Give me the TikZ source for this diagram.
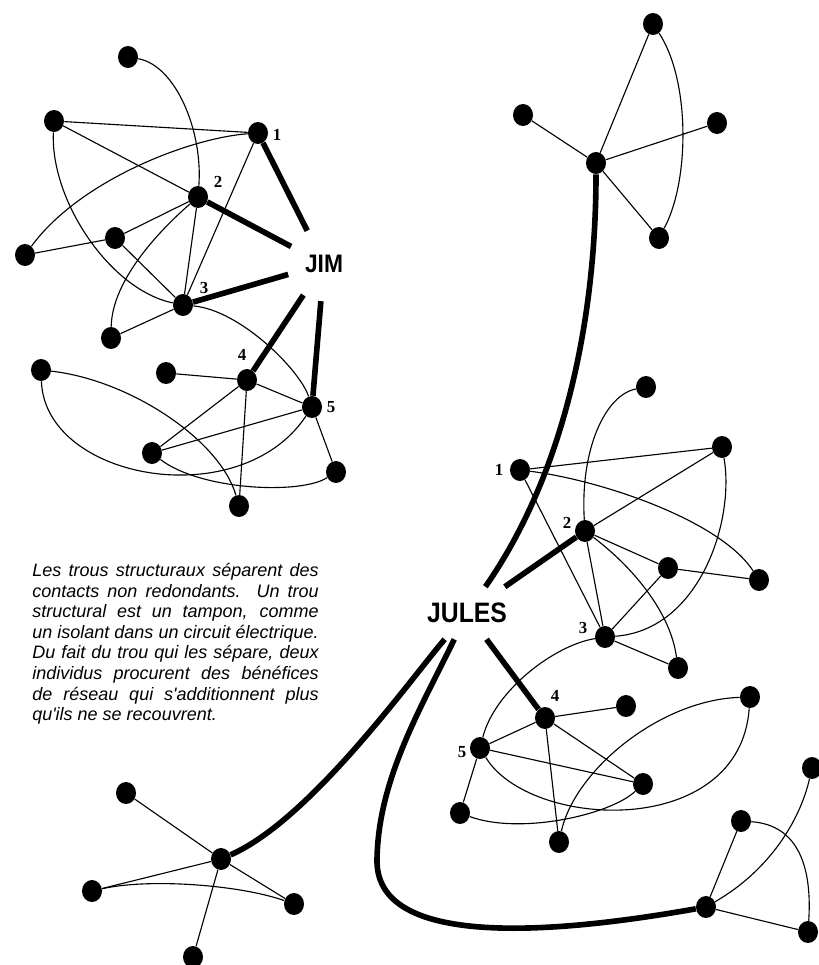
\documentclass[tikz,border=0pt]{standalone}
\usepackage{fontspec}
\usepackage{graphicx}
\usepackage{tikz}
\usetikzlibrary{shapes.geometric}
\newfontfamily\arialfont{Liberation Sans}
\newfontfamily\timesfont{Liberation Serif}

\begin{document}
\begin{tikzpicture}[x=0.025cm,y=-0.025cm,
    dot/.style={ellipse,fill=black,inner sep=0pt,minimum width=0.5cm,minimum height=0.55cm},
    tie/.style={line width=0.8pt},
    bridge/.style={line width=4pt},
    num/.style={inner sep=0pt,font=\timesfont\bfseries\fontsize{12}{12}\selectfont},
    actor/.style={inner sep=0pt,font=\arialfont\bfseries\fontsize{18}{18}\selectfont}]
    \useasboundingbox (0,0) rectangle (819,965);
    % JIM
    \node[actor,circle,minimum size=1.85cm] (jim) at (324,264) {\scalebox{0.9}[1]{JIM}};
    \node[dot] (ja) at (128,57) {};
    \node[dot] (jb) at (54,121) {};
    \node[dot] (j1) at (258,133) {};
    \node[dot] (j2) at (198,197) {};
    \node[dot] (jc) at (115,238) {};
    \node[dot] (jd) at (25,255) {};
    \node[dot] (j3) at (183,305) {};
    \node[dot] (je) at (111,338) {};
    \node[dot] (jf) at (166,373) {};
    \node[dot] (j4) at (247,380) {};
    \node[dot] (jg) at (41,370) {};
    \node[dot] (j5) at (312,407) {};
    \node[dot] (jh) at (152,453) {};
    \node[dot] (ji) at (336,472) {};
    \node[dot] (jk) at (239,506) {};
    \node[num] (n1) at (277,135) {1};
    \node[num] (n2) at (218,182) {2};
    \node[num] (n3) at (204,288) {3};
    \node[num] (n4) at (242,355) {4};
    \node[num] (n5) at (331,407) {5};
    \draw[tie] (ja) .. controls (175,65) and (203,130) .. (j2);
    \draw[tie] (jb) .. controls (50,200) and (110,290) .. (j3);
    \draw[tie] (j1) .. controls (190,138) and (80,180) .. (jd);
    \draw[tie] (j2) .. controls (160,230) and (112,280) .. (je);
    \draw[tie] (j3) .. controls (240,310) and (300,370) .. (j5);
    \draw[tie] (jg) .. controls (130,380) and (220,440) .. (jk);
    \draw[tie] (jg) .. controls (45,480) and (240,515) .. (j5);
    \draw[tie] (jh) .. controls (200,490) and (300,495) .. (ji);
    \draw[tie] (jb)--(j1);
    \draw[tie] (jb)--(j2);
    \draw[tie] (j1)--(j3);
    \draw[tie] (j2)--(jc);
    \draw[tie] (jc)--(jd);
    \draw[tie] (jc)--(j3);
    \draw[tie] (j2)--(j3);
    \draw[tie] (j3)--(je);
    \draw[tie] (j4)--(jf);
    \draw[tie] (j4)--(jh);
    \draw[tie] (j4)--(jk);
    \draw[tie] (j4)--(j5);
    \draw[tie] (jh)--(j5);
    \draw[tie] (j5)--(ji);
    \draw[bridge] (j1)--(jim);
    \draw[bridge] (j2)--(jim);
    \draw[bridge] (j3)--(jim);
    \draw[bridge] (j4)--(jim);
    \draw[bridge] (j5)--(jim);
    % JULES
    \node[actor,font=\arialfont\bfseries\fontsize{20}{20}\selectfont,minimum width=2.4cm,minimum height=1.3cm] (jules) at (467,613) {\scalebox{0.88}[1]{JULES}};
    \node[dot] (ta) at (596,163) {};
    \node[dot] (tb) at (653,24) {};
    \node[dot] (tc) at (523,115) {};
    \node[dot] (td) at (717,123) {};
    \node[dot] (te) at (659,238) {};
    \draw[tie] (ta)--(tb);
    \draw[tie] (ta)--(tc);
    \draw[tie] (ta)--(td);
    \draw[tie] (ta)--(te);
    \draw[tie] (tb) .. controls (690,80) and (690,180) .. (te);
    \node[dot] (u1) at (520,470) {};
    \node[dot] (ua) at (646,387) {};
    \node[dot] (ub) at (722,447) {};
    \node[dot] (u2) at (585,531) {};
    \node[dot] (uc) at (668,568) {};
    \node[dot] (ud) at (759,580) {};
    \node[dot] (u3) at (605,637) {};
    \node[dot] (ue) at (678,668) {};
    \node[dot] (u4) at (545,718) {};
    \node[dot] (uf) at (626,706) {};
    \node[dot] (ug) at (750,697) {};
    \node[dot] (u5) at (480,748) {};
    \node[dot] (uh) at (643,784) {};
    \node[dot] (ui) at (460,813) {};
    \node[dot] (uk) at (559,842) {};
    \node[num] (m1) at (499,470) {1};
    \node[num] (m2) at (567,523) {2};
    \node[num] (m3) at (583,628) {3};
    \node[num] (m4) at (555,696) {4};
    \node[num] (m5) at (462,752) {5};
    \draw[tie] (u1)--(ub);
    \draw[tie] (u1) .. controls (600,480) and (720,520) .. (ud);
    \draw[tie] (u1)--(u3);
    \draw[tie] (ua) .. controls (605,395) and (580,450) .. (u2);
    \draw[tie] (u2)--(ub);
    \draw[tie] (u2)--(uc);
    \draw[tie] (u2)--(u3);
    \draw[tie] (u2) .. controls (630,565) and (670,610) .. (ue);
    \draw[tie] (uc)--(ud);
    \draw[tie] (uc)--(u3);
    \draw[tie] (ub) .. controls (735,520) and (700,630) .. (u3);
    \draw[tie] (u3)--(ue);
    \draw[tie] (u3) .. controls (555,645) and (495,690) .. (u5);
    \draw[tie] (u4)--(uf);
    \draw[tie] (u4)--(u5);
    \draw[tie] (u4)--(uh);
    \draw[tie] (u4)--(uk);
    \draw[tie] (u5)--(uh);
    \draw[tie] (u5)--(ui);
    \draw[tie] (u5) .. controls (530,830) and (740,840) .. (ug);
    \draw[tie] (ui) .. controls (520,835) and (610,815) .. (uh);
    \draw[tie] (uk) .. controls (575,770) and (660,700) .. (ug);
    \node[dot] (ba) at (706,907) {};
    \node[dot] (bb) at (741,821) {};
    \node[dot] (bc) at (812,768) {};
    \node[dot] (bd) at (808,932) {};
    \draw[tie] (ba)--(bb);
    \draw[tie] (ba)--(bd);
    \draw[tie] (ba) .. controls (770,870) and (800,820) .. (bc);
    \draw[tie] (bb) .. controls (800,825) and (812,870) .. (bd);
    \node[dot] (la) at (221,859) {};
    \node[dot] (lb) at (126,793) {};
    \node[dot] (lc) at (92,891) {};
    \node[dot] (ld) at (294,904) {};
    \node[dot] (le) at (193,957) {};
    \draw[tie] (la)--(lb);
    \draw[tie] (la)--(lc);
    \draw[tie] (la)--(ld);
    \draw[tie] (la)--(le);
    \draw[tie] (lc) .. controls (150,878) and (240,885) .. (ld);
    \draw[bridge] (ta) .. controls (596,330) and (560,480) .. (jules);
    \draw[bridge] (jules)--(u2);
    \draw[bridge] (jules)--(u4);
    \draw[bridge] (jules) .. controls (410,680) and (310,820) .. (la);
    \draw[bridge] (jules) .. controls (420,710) and (378,780) .. (377,860) .. controls (376,940) and (520,940) .. (ba);
    % texte
    \node[anchor=north west,inner sep=0pt,align=left,font=\arialfont\itshape\fontsize{12.8}{14.65}\selectfont] (note) at (32,563) {%
      \makebox[7.16cm][s]{Les trous structuraux séparent des}\\
      \makebox[7.16cm][s]{contacts non redondants. Un trou}\\
      \makebox[7.16cm][s]{structural est un tampon, comme}\\
      \makebox[7.16cm][s]{un isolant dans un circuit électrique.}\\
      \makebox[7.16cm][s]{Du fait du trou qui les sépare, deux}\\
      \makebox[7.16cm][s]{individus procurent des bénéfices}\\
      \makebox[7.16cm][s]{de réseau qui s'additionnent plus}\\
      qu'ils ne se recouvrent.};
\end{tikzpicture}
\end{document}
